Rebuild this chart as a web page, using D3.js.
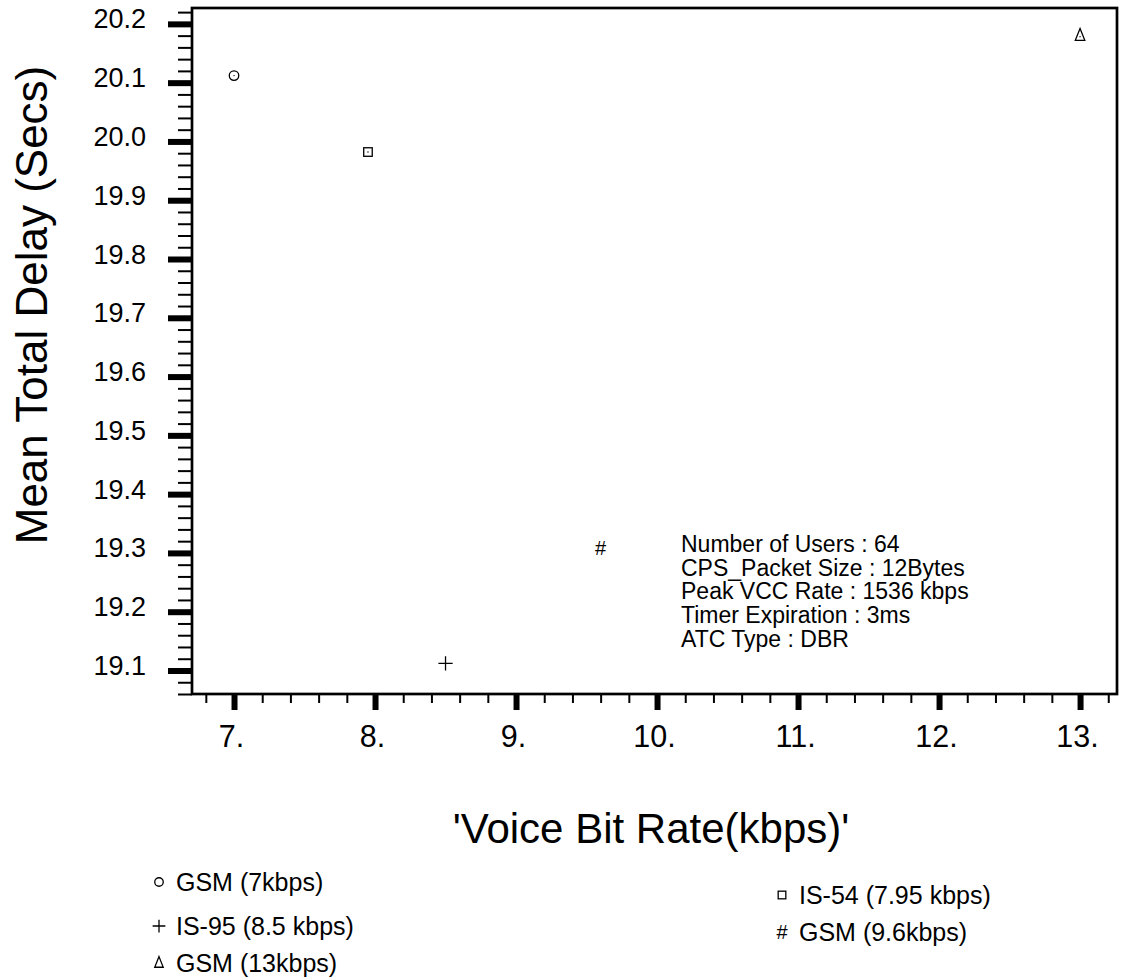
<!DOCTYPE html>
<html>
<head>
<meta charset="utf-8">
<script src="https://cdn.jsdelivr.net/npm/d3@7"></script>
<style>
  html, body { margin: 0; padding: 0; background: #fff; }
  svg { display: block; font-family: "Liberation Sans", Arial, Helvetica, sans-serif; }
</style>
</head>
<body>
<svg id="chart" width="1121" height="977"></svg>
<script>
// ---- data ----
const seriesNames = ["GSM (7kbps)", "IS-54 (7.95 kbps)", "IS-95 (8.5 kbps)", "GSM (9.6kbps)", "GSM (13kbps)"];
const bitRates   = [7, 7.95, 8.5, 9.6, 13];
const delays     = [20.112, 19.982, 19.112, 19.308, 20.18];
const symbolKind = ["circle", "square", "plus", "hash", "triangle"];
const xTickValues = [7, 8, 9, 10, 11, 12, 13];
const yTickValues = [19.1, 19.2, 19.3, 19.4, 19.5, 19.6, 19.7, 19.8, 19.9, 20.0, 20.1, 20.2];
const xTitle = "'Voice Bit Rate(kbps)'";
const yTitle = "Mean Total Delay (Secs)";
const infoLines = ["Number of Users : 64", "CPS_Packet Size : 12Bytes", "Peak VCC Rate : 1536 kbps", "Timer Expiration : 3ms", "ATC Type : DBR"];
const legendLeft  = ["GSM (7kbps)", "IS-95 (8.5 kbps)", "GSM (13kbps)"];
const legendLeftKind = ["circle", "plus", "triangle"];
const legendRight = ["IS-54 (7.95 kbps)", "GSM (9.6kbps)"];
const legendRightKind = ["square", "hash"];

// ---- layout ----
const plot = { left: 192, top: 8, right: 1117, bottom: 694 };
const svg = d3.select("#chart");
svg.append("rect").attr("width", 1121).attr("height", 977).attr("fill", "#fff");

const x = d3.scaleLinear().domain([6.702, 13.262]).range([plot.left, plot.right]);
const y = d3.scaleLinear().domain([19.06, 20.227]).range([plot.bottom, plot.top]);

const xMinor = d3.range(6.8, 13.21, 0.2).filter(v => Math.abs(v - Math.round(v)) > 1e-6);
const yMinor = d3.range(19.06, 20.221, 0.02).filter(v => Math.abs(v * 10 - Math.round(v * 10)) > 1e-6);

// x axis minor ticks
const gxMinor = svg.append("g").attr("transform", `translate(0,${plot.bottom})`)
  .call(d3.axisBottom(x).tickValues(xMinor).tickSize(9).tickFormat(""));
gxMinor.select(".domain").remove();
gxMinor.selectAll(".tick line").attr("stroke", "#000").attr("stroke-width", 2);

// x axis major ticks
const gx = svg.append("g").attr("transform", `translate(0,${plot.bottom})`)
  .call(d3.axisBottom(x).tickValues(xTickValues).tickSize(16).tickPadding(15).tickFormat(d => d + "."));
gx.select(".domain").remove();
gx.selectAll(".tick line").attr("stroke", "#000").attr("stroke-width", 6);
gx.selectAll(".tick text").attr("font-size", 30.5).attr("fill", "#000").attr("dx", -3)
  .attr("font-family", "Liberation Sans, Arial, sans-serif");

// y axis minor ticks
const gyMinor = svg.append("g").attr("transform", `translate(${plot.left},0)`)
  .call(d3.axisLeft(y).tickValues(yMinor).tickSize(14).tickFormat(""));
gyMinor.select(".domain").remove();
gyMinor.selectAll(".tick line").attr("stroke", "#000").attr("stroke-width", 2);

// y axis major ticks
const gy = svg.append("g").attr("transform", `translate(${plot.left},0)`)
  .call(d3.axisLeft(y).tickValues(yTickValues).tickSize(24).tickPadding(22).tickFormat(d3.format(".1f")));
gy.select(".domain").remove();
gy.selectAll(".tick line").attr("stroke", "#000").attr("stroke-width", 6);
gy.selectAll(".tick text").attr("font-size", 27).attr("fill", "#000")
  .attr("dy", "0.15em")
  .attr("font-family", "Liberation Sans, Arial, sans-serif");

// frame
svg.append("rect")
  .attr("x", plot.left).attr("y", plot.top)
  .attr("width", plot.right - plot.left).attr("height", plot.bottom - plot.top)
  .attr("fill", "none").attr("stroke", "#000").attr("stroke-width", 2.7);

// ---- markers ----
function drawMarker(g, kind, cx, cy, s, dot) {
  const st = { stroke: "#000", "stroke-width": 1.3, fill: "none" };
  const apply = sel => { Object.entries(st).forEach(([k, v]) => sel.attr(k, v)); return sel; };
  if (kind === "circle") {
    apply(g.append("circle").attr("cx", cx).attr("cy", cy).attr("r", s * 0.5));
  } else if (kind === "square") {
    apply(g.append("rect").attr("x", cx - s * 0.45).attr("y", cy - s * 0.45).attr("width", s * 0.9).attr("height", s * 0.9));
  } else if (kind === "triangle") {
    const h = s * 1.25, w = s * 1.0;
    apply(g.append("path").attr("d", `M${cx},${cy - h * 0.6}L${cx + w / 2},${cy + h * 0.4}L${cx - w / 2},${cy + h * 0.4}Z`));
  } else if (kind === "plus") {
    const r = s * 0.75;
    apply(g.append("path").attr("d", `M${cx - r},${cy}H${cx + r}M${cx},${cy - r}V${cy + r}`));
  } else if (kind === "hash") {
    g.append("text").attr("x", cx).attr("y", cy).attr("text-anchor", "middle")
      .attr("dy", "0.36em").attr("font-size", 20).attr("fill", "#000").text("#");
  }
  if (dot && kind !== "plus" && kind !== "hash") {
    g.append("circle").attr("cx", cx).attr("cy", kind === "triangle" ? cy + 1 : cy).attr("r", 0.7).attr("fill", "#000");
  }
}

const gm = svg.append("g");
bitRates.forEach((v, i) => drawMarker(gm, symbolKind[i], x(v), y(delays[i]), 9.5, true));

// info text
const info = svg.append("text").attr("x", 681).attr("y", 552).attr("font-size", 23).attr("fill", "#000");
infoLines.forEach((t, i) => info.append("tspan").attr("x", 681).attr("dy", i === 0 ? 0 : 23.7).text(t));

// axis titles
svg.append("text").attr("x", 651).attr("y", 843).attr("text-anchor", "middle")
  .attr("font-size", 42).attr("fill", "#000").text(xTitle);
svg.append("text").attr("transform", "translate(47,305) rotate(-90)").attr("text-anchor", "middle")
  .attr("font-size", 44).attr("fill", "#000").text(yTitle);

// legend
const leftRowsY = [882, 926, 963];
legendLeft.forEach((t, i) => {
  drawMarker(svg, legendLeftKind[i], 159, leftRowsY[i], 8.5, false);
  svg.append("text").attr("x", 176).attr("y", leftRowsY[i]).attr("dy", "0.36em")
    .attr("font-size", 25).attr("fill", "#000").text(t);
});
const rightRowsY = [895, 932];
legendRight.forEach((t, i) => {
  drawMarker(svg, legendRightKind[i], 782, rightRowsY[i], 8.5, false);
  svg.append("text").attr("x", 799).attr("y", rightRowsY[i]).attr("dy", "0.36em")
    .attr("font-size", 25).attr("fill", "#000").text(t);
});
</script>
</body>
</html>
